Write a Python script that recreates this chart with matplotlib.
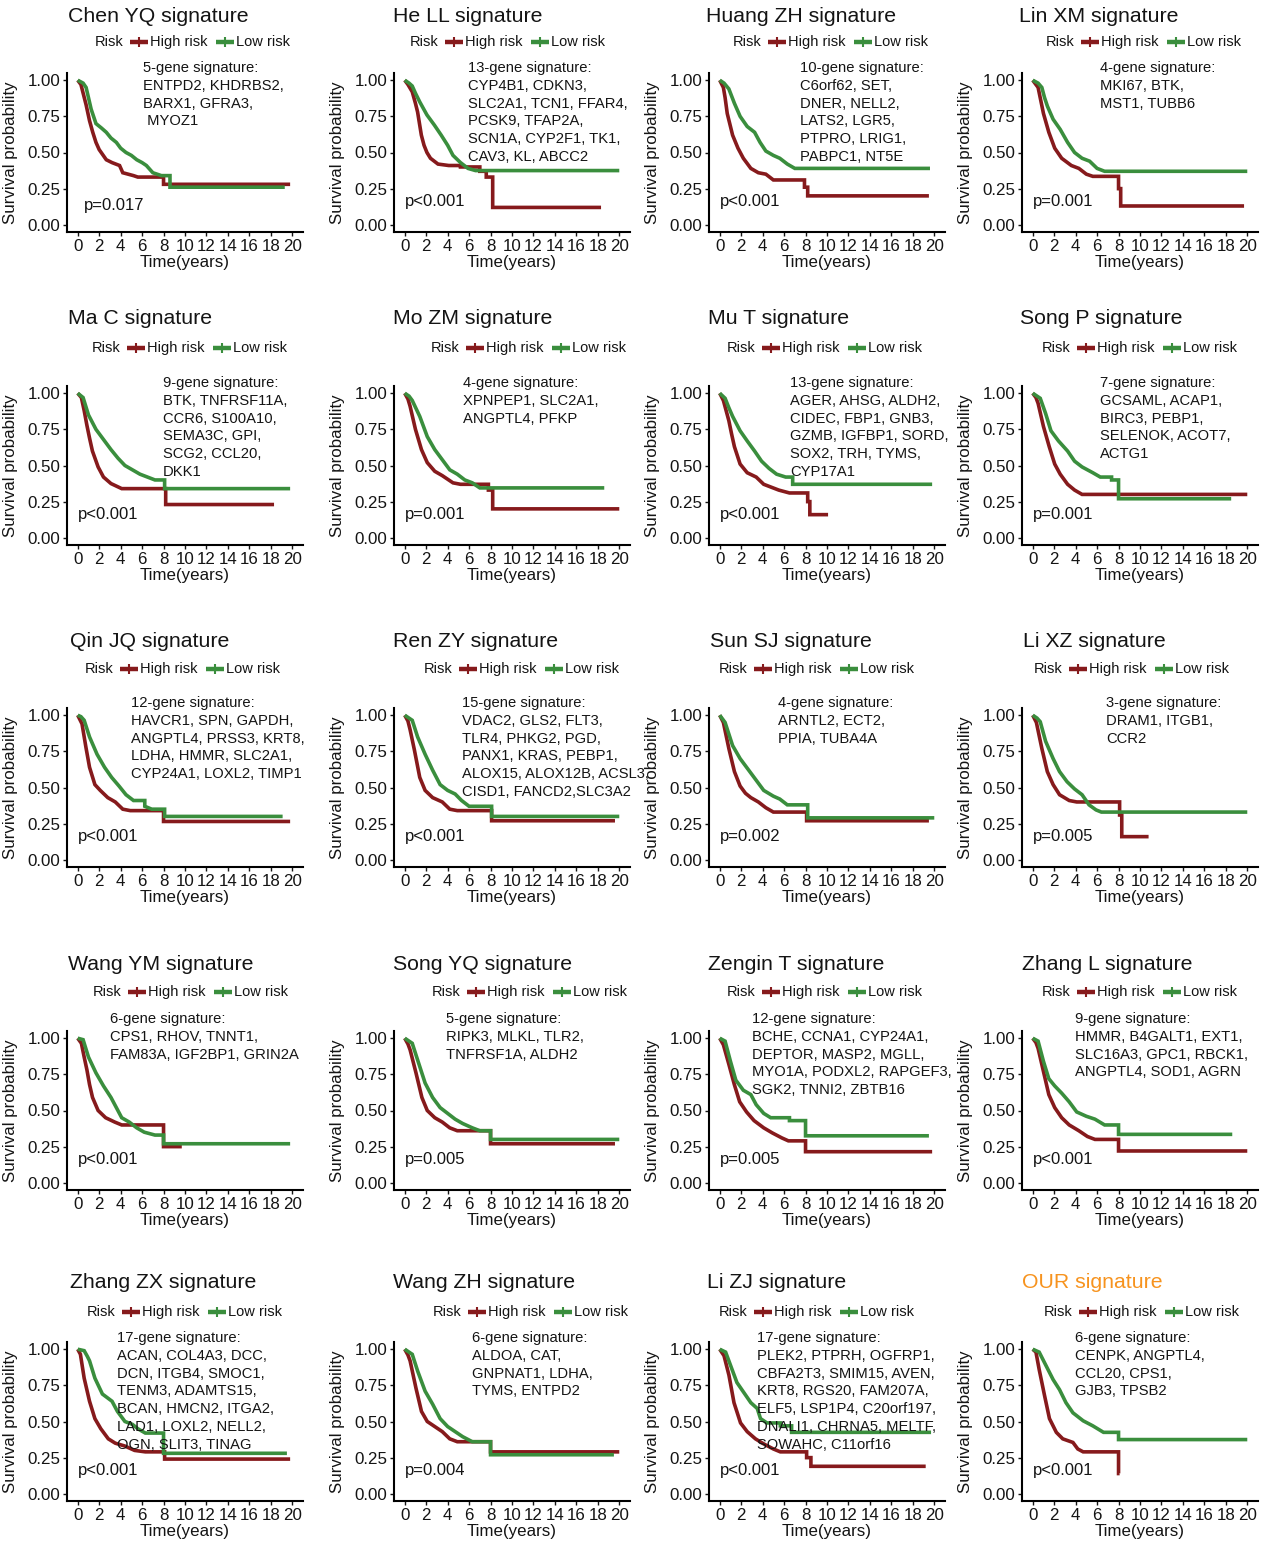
import matplotlib
matplotlib.use("Agg")
import matplotlib.pyplot as plt
from matplotlib.lines import Line2D

plt.rcParams['font.family'] = ['Liberation Sans', 'DejaVu Sans']

# --- data: KM curves, (time in years, survival) ---
chen_hi = [(0, 1), (0.3, 0.97), (0.78, 0.83), (1.1, 0.72), (1.4, 0.64), (1.7, 0.57), (2.0, 0.52), (2.66, 0.45),
           (3.2, 0.43), (3.9, 0.41), (4.2, 0.36), (5.2, 0.34), (5.6, 0.33), (8.0, 0.28), (19.8, 0.28)]
chen_lo = [(0, 1), (0.5, 0.98), (0.78, 0.95), (1.0, 0.88), (1.25, 0.80), (1.7, 0.70), (2.2, 0.67), (2.66, 0.64),
           (3.1, 0.60), (3.6, 0.57), (4.0, 0.53), (4.5, 0.50), (5.0, 0.48), (5.5, 0.45), (6.0, 0.43), (6.4, 0.41),
           (7.0, 0.36), (7.8, 0.34), (8.6, 0.34), (8.6, 0.26), (19.3, 0.26)]
he_hi = [(0, 1), (0.3, 0.97), (0.7, 0.92), (1.0, 0.84), (1.2, 0.78), (1.55, 0.62), (1.8, 0.55), (2.07, 0.50),
         (2.4, 0.46), (3.1, 0.42), (4.1, 0.41), (5.2, 0.40), (7.0, 0.37), (7.6, 0.37), (7.6, 0.33), (8.2, 0.33),
         (8.2, 0.12), (18.3, 0.12)]
he_lo = [(0, 1), (0.4, 0.98), (0.7, 0.96), (1.0, 0.91), (1.4, 0.85), (2.07, 0.76), (2.76, 0.69), (3.4, 0.62),
         (4.0, 0.55), (4.5, 0.48), (5.2, 0.43), (5.9, 0.39), (6.6, 0.375), (20, 0.375)]
huang_hi = [(0, 1), (0.34, 0.95), (0.5, 0.88), (0.7, 0.77), (1.0, 0.68), (1.2, 0.62), (1.7, 0.53), (2.2, 0.46),
            (2.9, 0.39), (3.6, 0.36), (4.3, 0.35), (5.0, 0.31), (7.9, 0.26), (8.2, 0.26), (8.2, 0.20), (19.5, 0.20)]
huang_lo = [(0, 1), (0.4, 0.98), (0.85, 0.94), (1.37, 0.84), (1.9, 0.75), (2.56, 0.68), (3.25, 0.64), (3.76, 0.57),
            (4.3, 0.51), (5.0, 0.48), (5.6, 0.46), (6.3, 0.42), (7.0, 0.39), (19.6, 0.39)]
lin_hi = [(0, 1), (0.5, 0.95), (0.75, 0.86), (1.0, 0.77), (1.5, 0.64), (2.05, 0.53), (2.7, 0.46), (3.6, 0.41),
          (4.3, 0.39), (5.0, 0.35), (5.6, 0.335), (8.0, 0.25), (8.2, 0.25), (8.2, 0.13), (19.7, 0.13)]
lin_lo = [(0, 1), (0.5, 0.98), (0.85, 0.95), (1.1, 0.88), (1.37, 0.82), (1.9, 0.73), (2.56, 0.66), (3.25, 0.57),
          (3.9, 0.50), (4.6, 0.46), (5.3, 0.44), (6.0, 0.39), (6.7, 0.37), (20, 0.37)]
ma_hi = [(0, 1), (0.34, 0.97), (0.6, 0.88), (0.85, 0.78), (1.1, 0.69), (1.37, 0.60), (1.9, 0.49), (2.4, 0.42),
         (3.1, 0.375), (4.1, 0.34), (8.2, 0.23), (18.3, 0.23)]
ma_lo = [(0, 1), (0.5, 0.97), (1.0, 0.85), (1.7, 0.75), (2.4, 0.68), (3.1, 0.61), (3.76, 0.55), (4.4, 0.50),
         (5.1, 0.47), (5.8, 0.44), (6.5, 0.42), (7.2, 0.40), (8.1, 0.40), (8.1, 0.34), (19.8, 0.34)]
mo_hi = [(0, 1), (0.3, 0.96), (0.5, 0.91), (1.0, 0.75), (1.56, 0.61), (2.1, 0.52), (2.8, 0.46), (3.5, 0.43),
         (4.5, 0.38), (5.2, 0.37), (7.8, 0.33), (8.2, 0.33), (8.2, 0.20), (20, 0.20)]
mo_lo = [(0, 1), (0.4, 0.98), (0.7, 0.95), (1.4, 0.84), (2.1, 0.70), (2.8, 0.61), (3.5, 0.54), (4.2, 0.47),
         (4.9, 0.44), (5.6, 0.40), (6.3, 0.38), (7.0, 0.345), (18.6, 0.345)]
mu_hi = [(0, 1), (0.34, 0.95), (0.85, 0.81), (1.1, 0.72), (1.37, 0.63), (1.9, 0.51), (2.56, 0.45), (3.4, 0.42),
         (4.1, 0.37), (4.8, 0.35), (5.5, 0.33), (6.5, 0.31), (8.2, 0.25), (8.4, 0.25), (8.4, 0.16), (10.1, 0.16)]
mu_lo = [(0, 1), (0.5, 0.965), (0.85, 0.90), (1.2, 0.84), (1.9, 0.74), (2.56, 0.67), (3.25, 0.60), (3.9, 0.53),
         (4.6, 0.48), (5.3, 0.44), (6.15, 0.42), (6.8, 0.42), (6.8, 0.37), (19.8, 0.37)]
songp_hi = [(0, 1), (0.3, 0.97), (0.5, 0.93), (1.0, 0.77), (1.54, 0.63), (2.05, 0.51), (2.56, 0.44), (3.25, 0.37),
            (3.9, 0.33), (4.6, 0.30), (20, 0.30)]
songp_lo = [(0, 1), (0.4, 0.98), (0.7, 0.965), (1.2, 0.86), (1.7, 0.74), (2.4, 0.67), (3.25, 0.60), (3.9, 0.53),
            (4.6, 0.49), (5.6, 0.45), (6.3, 0.42), (7.35, 0.40), (8.0, 0.40), (8.0, 0.27), (18.5, 0.27)]
qin_hi = [(0, 1), (0.4, 0.94), (0.76, 0.78), (1.1, 0.64), (1.6, 0.52), (2.1, 0.48), (2.8, 0.43), (3.5, 0.40),
          (4.2, 0.35), (4.9, 0.34), (8.0, 0.265), (19.8, 0.265)]
qin_lo = [(0, 1), (0.3, 0.99), (0.6, 0.965), (1.1, 0.85), (1.8, 0.73), (2.5, 0.64), (3.16, 0.57), (3.85, 0.51),
          (4.5, 0.45), (5.2, 0.41), (6.25, 0.37), (6.9, 0.35), (8.1, 0.30), (19.1, 0.30)]
ren_hi = [(0, 1), (0.3, 0.96), (0.5, 0.90), (0.9, 0.76), (1.4, 0.57), (1.9, 0.48), (2.6, 0.43), (3.5, 0.40),
          (4.2, 0.35), (4.9, 0.34), (8.1, 0.27), (19.6, 0.27)]
ren_lo = [(0, 1), (0.4, 0.98), (0.7, 0.965), (1.2, 0.85), (1.9, 0.73), (2.6, 0.62), (3.3, 0.52), (4.0, 0.48),
          (4.7, 0.455), (5.3, 0.41), (6.0, 0.37), (8.1, 0.30), (20, 0.30)]
sun_hi = [(0, 1), (0.34, 0.95), (0.85, 0.77), (1.37, 0.61), (1.9, 0.51), (2.4, 0.46), (2.9, 0.43), (3.6, 0.40),
          (4.3, 0.36), (5.0, 0.33), (8.1, 0.27), (19.5, 0.27)]
sun_lo = [(0, 1), (0.5, 0.95), (0.85, 0.87), (1.2, 0.79), (1.9, 0.70), (2.7, 0.62), (3.4, 0.55), (4.1, 0.48),
          (5.0, 0.44), (5.6, 0.42), (6.3, 0.38), (8.2, 0.29), (20, 0.29)]
lixz_hi = [(0, 1), (0.34, 0.95), (0.85, 0.77), (1.36, 0.61), (1.9, 0.52), (2.5, 0.45), (3.4, 0.41), (4.1, 0.40),
           (8.1, 0.31), (8.3, 0.31), (8.3, 0.16), (10.8, 0.16)]
lixz_lo = [(0, 1), (0.4, 0.98), (0.7, 0.955), (1.2, 0.82), (1.9, 0.70), (2.5, 0.61), (3.2, 0.54), (3.9, 0.49),
           (4.6, 0.45), (5.25, 0.38), (5.9, 0.345), (6.4, 0.33), (20, 0.33)]
wangym_hi = [(0, 1), (0.34, 0.965), (0.6, 0.87), (0.86, 0.78), (1.1, 0.68), (1.38, 0.59), (1.9, 0.50), (2.6, 0.45),
             (3.45, 0.42), (4.1, 0.40), (8.0, 0.25), (9.7, 0.25)]
wangym_lo = [(0, 1), (0.5, 0.99), (1.0, 0.87), (1.7, 0.76), (2.4, 0.67), (3.1, 0.59), (3.6, 0.52), (4.1, 0.45),
             (4.8, 0.42), (5.5, 0.38), (6.2, 0.35), (7.2, 0.33), (8.0, 0.33), (8.0, 0.27), (19.8, 0.27)]
songyq_hi = [(0, 1), (0.3, 0.96), (0.5, 0.92), (1.05, 0.76), (1.6, 0.59), (2.1, 0.50), (2.8, 0.45), (3.5, 0.42),
             (4.2, 0.38), (4.9, 0.36), (8.0, 0.27), (19.6, 0.27)]
songyq_lo = [(0, 1), (0.4, 0.98), (0.7, 0.965), (1.2, 0.85), (1.9, 0.69), (2.6, 0.59), (3.3, 0.52), (4.0, 0.48),
             (4.7, 0.44), (5.4, 0.41), (6.3, 0.38), (7.0, 0.36), (8.0, 0.36), (8.0, 0.30), (20, 0.30)]
zengin_hi = [(0, 1), (0.34, 0.955), (0.85, 0.82), (1.36, 0.68), (1.86, 0.56), (2.5, 0.49), (3.2, 0.43), (4.1, 0.38),
             (4.9, 0.345), (5.8, 0.31), (6.4, 0.29), (8.0, 0.215), (19.8, 0.215)]
zengin_lo = [(0, 1), (0.5, 0.98), (1.0, 0.84), (1.5, 0.71), (2.2, 0.64), (2.9, 0.61), (3.4, 0.54), (4.1, 0.48),
             (4.75, 0.45), (6.5, 0.43), (8.0, 0.325), (19.5, 0.325)]
zhangl_hi = [(0, 1), (0.3, 0.97), (0.5, 0.93), (1.0, 0.77), (1.5, 0.61), (2.05, 0.52), (2.7, 0.45), (3.4, 0.40),
             (4.3, 0.36), (5.1, 0.32), (5.8, 0.30), (8.0, 0.22), (20, 0.22)]
zhangl_lo = [(0, 1), (0.5, 0.98), (1.0, 0.84), (1.5, 0.72), (2.05, 0.67), (2.7, 0.62), (3.4, 0.56), (4.1, 0.49),
             (5.0, 0.46), (5.8, 0.44), (6.7, 0.40), (8.0, 0.335), (18.6, 0.335)]
zhangzx_hi = [(0, 1), (0.25, 0.965), (0.6, 0.80), (1.1, 0.64), (1.6, 0.52), (2.15, 0.45), (2.85, 0.38), (3.5, 0.35),
              (4.4, 0.33), (5.3, 0.30), (6.3, 0.29), (8.1, 0.24), (19.8, 0.24)]
zhangzx_lo = [(0, 1), (0.6, 0.99), (0.9, 0.95), (1.1, 0.92), (1.6, 0.80), (2.3, 0.69), (3.2, 0.64), (3.7, 0.57),
              (4.4, 0.50), (5.1, 0.48), (5.6, 0.45), (6.3, 0.42), (8.0, 0.28), (19.5, 0.28)]
wangzh_hi = [(0, 1), (0.3, 0.96), (0.5, 0.92), (1.05, 0.73), (1.56, 0.57), (2.1, 0.50), (2.8, 0.465), (3.5, 0.43),
             (4.2, 0.38), (4.9, 0.36), (8.0, 0.29), (20, 0.29)]
wangzh_lo = [(0, 1), (0.4, 0.98), (0.7, 0.965), (1.2, 0.85), (1.9, 0.71), (2.6, 0.62), (3.3, 0.52), (4.0, 0.465),
             (4.7, 0.43), (5.4, 0.395), (6.3, 0.36), (8.0, 0.27), (19.5, 0.27)]
lizj_hi = [(0, 1), (0.4, 0.955), (0.86, 0.82), (1.33, 0.63), (1.94, 0.49), (2.56, 0.43), (3.33, 0.38), (4.1, 0.345),
           (5.0, 0.31), (5.65, 0.29), (8.1, 0.25), (8.5, 0.25), (8.5, 0.19), (19.2, 0.19)]
lizj_lo = [(0, 1), (0.55, 0.98), (1.0, 0.89), (1.6, 0.77), (2.25, 0.70), (2.9, 0.63), (3.5, 0.59), (3.8, 0.52),
           (4.4, 0.49), (5.65, 0.47), (6.7, 0.425), (19.7, 0.425)]
our_hi = [(0, 1), (0.3, 0.98), (0.6, 0.86), (1.1, 0.68), (1.56, 0.52), (2.2, 0.425), (2.8, 0.38), (3.75, 0.355),
          (4.2, 0.31), (4.7, 0.29), (8.0, 0.14), (8.1, 0.14)]
our_lo = [(0, 1), (0.6, 0.98), (1.25, 0.885), (1.9, 0.79), (2.5, 0.72), (3.1, 0.63), (3.75, 0.56), (4.7, 0.505),
          (5.6, 0.47), (6.6, 0.425), (8.0, 0.375), (20, 0.375)]

titles = ["Chen YQ signature", "He LL signature", "Huang ZH signature", "Lin XM signature",
          "Ma C signature", "Mo ZM signature", "Mu T signature", "Song P signature",
          "Qin JQ signature", "Ren ZY signature", "Sun SJ signature", "Li XZ signature",
          "Wang YM signature", "Song YQ signature", "Zengin T signature", "Zhang L signature",
          "Zhang ZX signature", "Wang ZH signature", "Li ZJ signature", "OUR signature"]
pvalues = ["p=0.017", "p<0.001", "p<0.001", "p=0.001",
           "p<0.001", "p=0.001", "p<0.001", "p=0.001",
           "p<0.001", "p<0.001", "p=0.002", "p=0.005",
           "p<0.001", "p=0.005", "p=0.005", "p<0.001",
           "p<0.001", "p=0.004", "p<0.001", "p<0.001"]
genes = [
    ["5-gene signature:", "ENTPD2, KHDRBS2,", "BARX1, GFRA3,", " MYOZ1"],
    ["13-gene signature:", "CYP4B1, CDKN3,", "SLC2A1, TCN1, FFAR4,", "PCSK9, TFAP2A,", "SCN1A, CYP2F1, TK1,",
     "CAV3, KL, ABCC2"],
    ["10-gene signature:", "C6orf62, SET,", "DNER, NELL2,", "LATS2, LGR5,", "PTPRO, LRIG1,", "PABPC1, NT5E"],
    ["4-gene signature:", "MKI67, BTK,", "MST1, TUBB6"],
    ["9-gene signature:", "BTK, TNFRSF11A,", "CCR6, S100A10,", "SEMA3C, GPI,", "SCG2, CCL20,", "DKK1"],
    ["4-gene signature:", "XPNPEP1, SLC2A1,", "ANGPTL4, PFKP"],
    ["13-gene signature:", "AGER, AHSG, ALDH2,", "CIDEC, FBP1, GNB3,", "GZMB, IGFBP1, SORD,", "SOX2, TRH, TYMS,",
     "CYP17A1"],
    ["7-gene signature:", "GCSAML, ACAP1,", "BIRC3, PEBP1,", "SELENOK, ACOT7,", "ACTG1"],
    ["12-gene signature:", "HAVCR1, SPN, GAPDH,", "ANGPTL4, PRSS3, KRT8,", "LDHA, HMMR, SLC2A1,",
     "CYP24A1, LOXL2, TIMP1"],
    ["15-gene signature:", "VDAC2, GLS2, FLT3,", "TLR4, PHKG2, PGD,", "PANX1, KRAS, PEBP1,",
     "ALOX15, ALOX12B, ACSL3,", "CISD1, FANCD2,SLC3A2"],
    ["4-gene signature:", "ARNTL2, ECT2,", "PPIA, TUBA4A"],
    ["3-gene signature:", "DRAM1, ITGB1,", "CCR2"],
    ["6-gene signature:", "CPS1, RHOV, TNNT1,", "FAM83A, IGF2BP1, GRIN2A"],
    ["5-gene signature:", "RIPK3, MLKL, TLR2,", "TNFRSF1A, ALDH2"],
    ["12-gene signature:", "BCHE, CCNA1, CYP24A1,", "DEPTOR, MASP2, MGLL,", "MYO1A, PODXL2, RAPGEF3,",
     "SGK2, TNNI2, ZBTB16"],
    ["9-gene signature:", "HMMR, B4GALT1, EXT1,", "SLC16A3, GPC1, RBCK1,", "ANGPTL4, SOD1, AGRN"],
    ["17-gene signature:", "ACAN, COL4A3, DCC,", "DCN, ITGB4, SMOC1,", "TENM3, ADAMTS15,", "BCAN, HMCN2, ITGA2,",
     "LAD1, LOXL2, NELL2,", "OGN, SLIT3, TINAG"],
    ["6-gene signature:", "ALDOA, CAT,", "GNPNAT1, LDHA,", "TYMS, ENTPD2"],
    ["17-gene signature:", "PLEK2, PTPRH, OGFRP1,", "CBFA2T3, SMIM15, AVEN,", "KRT8, RGS20, FAM207A,",
     "ELF5, LSP1P4, C20orf197,", "DNALI1, CHRNA5, MELTF,", "SOWAHC, C11orf16"],
    ["6-gene signature:", "CENPK, ANGPTL4,", "CCL20, CPS1,", "GJB3, TPSB2"],
]
high_curves = [chen_hi, he_hi, huang_hi, lin_hi, ma_hi, mo_hi, mu_hi, songp_hi, qin_hi, ren_hi,
               sun_hi, lixz_hi, wangym_hi, songyq_hi, zengin_hi, zhangl_hi, zhangzx_hi, wangzh_hi, lizj_hi, our_hi]
low_curves = [chen_lo, he_lo, huang_lo, lin_lo, ma_lo, mo_lo, mu_lo, songp_lo, qin_lo, ren_lo,
              sun_lo, lixz_lo, wangym_lo, songyq_lo, zengin_lo, zhangl_lo, zhangzx_lo, wangzh_lo, lizj_lo, our_lo]

# --- layout (pixels, measured from top-left) ---
W, H = 1268, 1547
col_left = [67, 394, 709, 1022]
ax_w = 236
row_top = [73, 386, 708, 1031, 1342]
ax_h = 159
title_y = [16, 319, 641, 965, 1283]
title_x = [68, 393, 706, 1019, 68, 393, 708, 1020, 70, 393, 710, 1023,
           68, 393, 708, 1022, 70, 393, 707, 1022]
legend_y = [42, 348, 669, 992, 1312]
legend_x = [95, 410, 733, 1046, 92, 431, 727, 1042, 85, 424, 719, 1034,
            93, 432, 727, 1042, 87, 433, 719, 1044]
gene_y = [68, 383, 703, 1019, 1338]
gene_dx = [76, 74, 91, 78, 96, 69, 81, 78, 64, 68, 69, 84, 43, 52, 43, 53, 50, 78, 48, 53]
RED = '#861a1c'
GREEN = '#3a8e3d'
TXT = '#141414'


def fx(x):
    return x / W


def fy(y):
    return 1 - y / H


def km_vertices(curve):
    # dense stretches are drawn straight (many tiny KM steps), long gaps as flat + drop
    xs, ys = [], []
    for j, (t, s) in enumerate(curve):
        if j > 0 and t - curve[j - 1][0] > 1.0:
            xs.append(t)
            ys.append(curve[j - 1][1])
        xs.append(t)
        ys.append(s)
    return xs, ys


def draw_legend(fig, left, y):
    fig.text(fx(left), fy(y), "Risk", fontsize=10.5, color=TXT, va='center', ha='left')
    for off, col, lab in [(35, RED, "High risk"), (121, GREEN, "Low risk")]:
        x1, x2 = left + off, left + off + 18
        fig.add_artist(Line2D([fx(x1), fx((x1 + x2) / 2), fx(x2)], [fy(y)] * 3, transform=fig.transFigure,
                              color=col, lw=3.2, solid_capstyle='butt', marker='|', markevery=[1],
                              markersize=7, mew=1.5))
        fig.text(fx(x2 + 2), fy(y), lab, fontsize=10.5, color=TXT, va='center', ha='left')


fig = plt.figure(figsize=(W / 100, H / 100), dpi=100)

for i in range(20):
    r, c = divmod(i, 4)
    left = col_left[c]
    top = row_top[r]
    ax = fig.add_axes([fx(left), fy(top + ax_h), ax_w / W, ax_h / H])

    for curve, col in [(high_curves[i], RED), (low_curves[i], GREEN)]:
        t, s = km_vertices(curve)
        ax.plot(t, s, color=col, lw=2.6, solid_joinstyle='miter', solid_capstyle='butt')

    ax.set_xlim(-1, 21)
    ax.set_ylim(-0.05, 1.05)
    ax.set_xticks(range(0, 21, 2))
    ax.set_yticks([0, 0.25, 0.5, 0.75, 1.0])
    ax.set_yticklabels(["0.00", "0.25", "0.50", "0.75", "1.00"])
    for sp in ['top', 'right']:
        ax.spines[sp].set_visible(False)
    for sp in ['left', 'bottom']:
        ax.spines[sp].set_linewidth(1.5)
        ax.spines[sp].set_color('black')
    ax.tick_params(direction='out', length=3, width=1, labelsize=12.2, pad=2, colors=TXT)
    ax.set_xlabel("Time(years)", fontsize=12.2, color=TXT, labelpad=1)
    ax.set_ylabel("Survival probability", fontsize=12.2, color=TXT)
    ax.yaxis.set_label_coords(-49 / ax_w, 0.5)

    px = 0.6 if i == 0 else 0.0
    py = 0.13 if i == 0 else 0.16
    ax.text(px, py, pvalues[i], fontsize=12, color=TXT, va='center', ha='left')

    tcol = '#f7931e' if i == 19 else TXT
    fig.text(fx(title_x[i]), fy(title_y[r]), titles[i], fontsize=15.3, color=tcol, va='center', ha='left')

    draw_legend(fig, legend_x[i], legend_y[r])

    for k, line in enumerate(genes[i]):
        fig.text(fx(left + gene_dx[i]), fy(gene_y[r] + k * 17.8), line, fontsize=10.6, color=TXT,
                 va='center', ha='left')

fig.savefig("out.png", dpi=100, facecolor='white')
